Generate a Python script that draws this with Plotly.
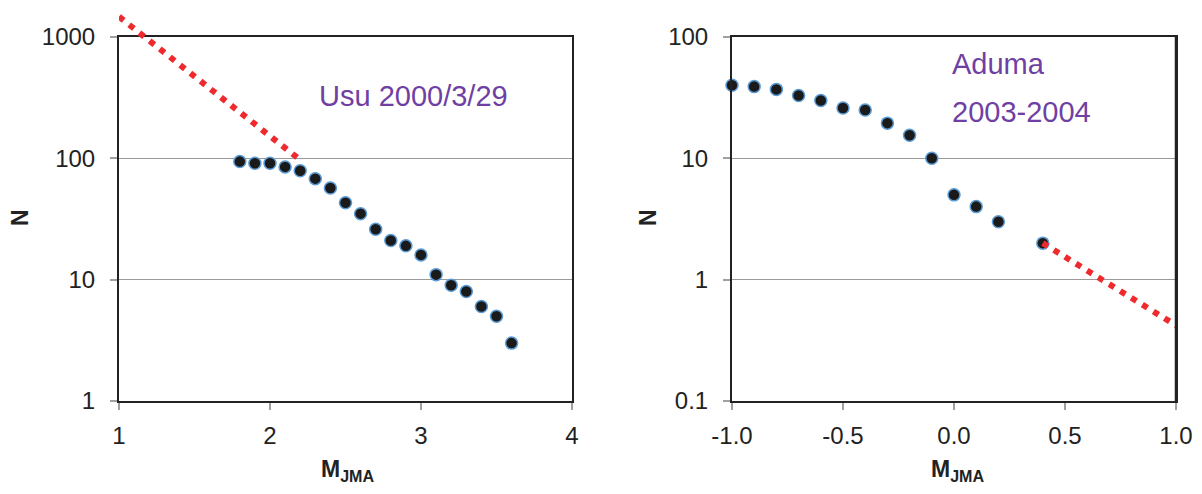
import plotly.graph_objects as go

# ---- data ----
usu_m = [1.8, 1.9, 2.0, 2.1, 2.2, 2.3, 2.4, 2.5, 2.6, 2.7, 2.8, 2.9, 3.0, 3.1, 3.2, 3.3, 3.4, 3.5, 3.6]
usu_n = [94, 91, 91, 85, 79, 68, 57, 43, 35, 26, 21, 19, 16, 11, 9, 8, 6, 5, 3]
usu_fit_m = [1.0, 2.2]
usu_fit_n = [1470, 97]

aduma_m = [-1.0, -0.9, -0.8, -0.7, -0.6, -0.5, -0.4, -0.3, -0.2, -0.1, 0.0, 0.1, 0.2, 0.4]
aduma_n = [40, 39, 37, 33, 30, 26, 25, 19.5, 15.5, 10, 5, 4, 3, 2]
aduma_fit_m = [0.4, 1.0]
aduma_fit_n = [2, 0.42]

left_xticks = [1, 2, 3, 4]
left_xtext = ["1", "2", "3", "4"]
left_yticks = [1, 10, 100, 1000]
left_ytext = ["1", "10", "100", "1000"]
right_xticks = [-1.0, -0.5, 0.0, 0.5, 1.0]
right_xtext = ["-1.0", "-0.5", "0.0", "0.5", "1.0"]
right_yticks = [0.1, 1, 10, 100]
right_ytext = ["0.1", "1", "10", "100"]

FONT = "Liberation Sans, Arial, sans-serif"
PURPLE = "#6f3fa3"
RED = "#ee2a2e"
FRAME = "#222222"

W, H = 1202, 494
PLOT_TOP, PLOT_BOT = 37, 401
DECADE_PX = (PLOT_BOT - PLOT_TOP) / 3.0

fig = go.Figure()

marker = dict(size=12, color="#1a1a1a", line=dict(color="#5b9bd5", width=1.5))
fitline = dict(color=RED, width=6, dash="6px,7px")

fig.add_trace(go.Scatter(x=usu_m, y=usu_n, mode="markers", marker=marker,
                         cliponaxis=False, xaxis="x", yaxis="y", showlegend=False))
# fit line of left panel drawn on an invisible y-axis with the same scale that
# extends above the frame, so the part above 1000 is not clipped
fig.add_trace(go.Scatter(x=usu_fit_m, y=usu_fit_n, mode="lines", line=fitline,
                         cliponaxis=False, xaxis="x", yaxis="y3", showlegend=False))
fig.add_trace(go.Scatter(x=aduma_m, y=aduma_n, mode="markers", marker=marker,
                         cliponaxis=False, xaxis="x2", yaxis="y2", showlegend=False))
fig.add_trace(go.Scatter(x=aduma_fit_m, y=aduma_fit_n, mode="lines", line=fitline,
                         cliponaxis=False, xaxis="x2", yaxis="y2", showlegend=False))

ydom = [1 - PLOT_BOT / H, 1 - PLOT_TOP / H]
axis_common = dict(showline=True, linecolor=FRAME, linewidth=2, mirror=True,
                   ticks="outside", ticklen=7, tickwidth=1.5, tickcolor="#a0a0a0",
                   tickfont=dict(family=FONT, size=24, color="#222222"), zeroline=False,
                   automargin=False)

fig.update_layout(
    width=W, height=H,
    margin=dict(l=0, r=0, t=0, b=0),
    paper_bgcolor="white", plot_bgcolor="rgba(0,0,0,0)",
    xaxis=dict(domain=[119 / W, 572 / W], range=[1, 4], tickvals=left_xticks,
               ticktext=left_xtext, showgrid=False, anchor="y", ticklabelstandoff=5,
               **axis_common),
    yaxis=dict(domain=ydom, type="log", range=[0, 3], tickvals=left_yticks,
               ticktext=left_ytext, showgrid=True, gridcolor="#9a9a9a", gridwidth=1.2,
               anchor="x", ticklabelstandoff=10, **axis_common),
    xaxis2=dict(domain=[732 / W, 1176 / W], range=[-1, 1], tickvals=right_xticks,
                ticktext=right_xtext, showgrid=False, anchor="y2", ticklabelstandoff=5,
                **axis_common),
    yaxis2=dict(domain=ydom, type="log", range=[-1, 2], tickvals=right_yticks,
                ticktext=right_ytext, showgrid=True, gridcolor="#9a9a9a", gridwidth=1.2,
                anchor="x2", ticklabelstandoff=10, **axis_common),
    yaxis3=dict(domain=[1 - PLOT_BOT / H, 1], type="log", range=[0, PLOT_BOT / DECADE_PX],
                visible=False, showgrid=False, zeroline=False, anchor="x", automargin=False),
)

# right edge of the right frame (explicit, in case the mirror line is dropped)
fig.add_shape(type="line", xref="x2 domain", yref="y2 domain", x0=1, x1=1, y0=0, y1=1,
              line=dict(color=FRAME, width=2.5), layer="above")

ann_font = dict(family=FONT, size=29, color=PURPLE)
fig.add_annotation(text="Usu 2000/3/29", xref="paper", yref="paper", x=317 / W, y=1 - 96 / H,
                   xanchor="left", yanchor="middle", showarrow=False, font=ann_font)
fig.add_annotation(text="Aduma", xref="paper", yref="paper", x=950 / W, y=1 - 64 / H,
                   xanchor="left", yanchor="middle", showarrow=False, font=ann_font)
fig.add_annotation(text="2003-2004", xref="paper", yref="paper", x=950 / W, y=1 - 112 / H,
                   xanchor="left", yanchor="middle", showarrow=False, font=ann_font)

title_font = dict(family=FONT, size=23, color="#222222")
for xpos in [20 / W, 648 / W]:
    fig.add_annotation(text="<b>N</b>", xref="paper", yref="paper", x=xpos, y=1 - 218 / H,
                       xanchor="center", yanchor="middle", textangle=-90, showarrow=False,
                       font=title_font)
for xpos in [348 / W, 958 / W]:
    fig.add_annotation(text="<b>M<sub>JMA</sub></b>", xref="paper", yref="paper", x=xpos,
                       y=1 - 470 / H, xanchor="center", yanchor="middle", showarrow=False,
                       font=title_font)

fig.write_html("out.html")
